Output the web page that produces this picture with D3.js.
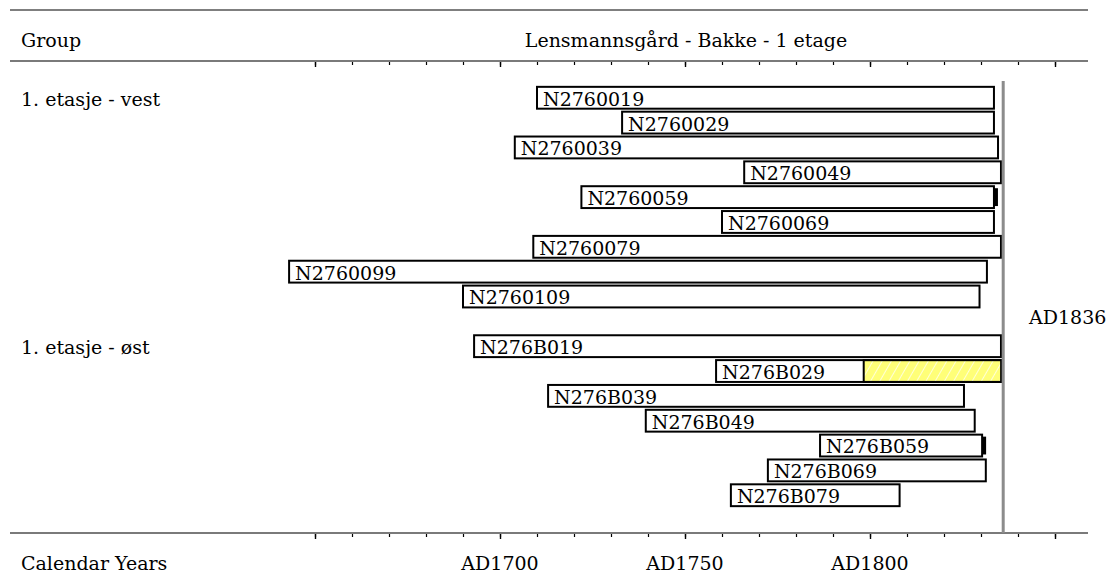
<!DOCTYPE html>
<html>
<head>
<meta charset="utf-8">
<script src="https://cdn.jsdelivr.net/npm/d3@7"></script>
<style>
  body { margin: 0; background: #fff; }
  text { font-family: "DejaVu Serif", serif; font-size: 19px; fill: #000; }
</style>
</head>
<body>
<div id="chart"></div>
<script>
// Chart text
const groupHeader = "Group";
const chartTitle = "Lensmannsgård - Bakke - 1 etage";
const axisTitle = "Calendar Years";
const dateLineLabel = "AD1836";
const dateLineYear = 1836;

// Groups and samples (start year, end year)
const groups = ["1. etasje - vest", "1. etasje - øst"];
const westNames = ["N2760019", "N2760029", "N2760039", "N2760049", "N2760059", "N2760069", "N2760079", "N2760099", "N2760109"];
const westStart = [1710, 1733, 1704, 1766, 1722, 1760, 1709, 1643, 1690];
const westEnd   = [1833.5, 1833.5, 1834.6, 1835.4, 1833.5, 1833.5, 1835.4, 1831.6, 1829.6];
const eastNames = ["N276B019", "N276B029", "N276B039", "N276B049", "N276B059", "N276B069", "N276B079"];
const eastStart = [1693, 1758.4, 1713, 1739.4, 1786.5, 1772.4, 1762.4];
const eastEnd   = [1835.4, 1835.5, 1825.4, 1828.3, 1830.3, 1831.3, 1808];
// hatched (sapwood) start, null if none
const eastHatch = [null, 1798.3, null, null, null, null, null];
// samples with a bark-edge mark at the end
const barkEdge = ["N2760059", "N276B059"];

// Axis ticks
const minorTicks = d3.range(1650, 1851, 10);
const majorTicks = [1650, 1700, 1750, 1800, 1850];
const tickLabels = [
  { year: 1700, label: "AD1700" },
  { year: 1750, label: "AD1750" },
  { year: 1800, label: "AD1800" }
];

// Build rows: west group, one blank row, east group
const rows = [];
westNames.forEach((n, i) => rows.push({ name: n, start: westStart[i], end: westEnd[i], hatch: null, group: i === 0 ? groups[0] : null }));
rows.push(null);
eastNames.forEach((n, i) => rows.push({ name: n, start: eastStart[i], end: eastEnd[i], hatch: eastHatch[i], group: i === 0 ? groups[1] : null }));

const W = 1107, H = 577;
const lineLeft = 10, lineRight = 1088;
const topAxisY = 61, bottomAxisY = 533;

const svg = d3.select("#chart").append("svg")
    .attr("width", W)
    .attr("height", H);

const defs = svg.append("defs");
const pat = defs.append("pattern")
    .attr("id", "hatch")
    .attr("patternUnits", "userSpaceOnUse")
    .attr("width", 8)
    .attr("height", 8)
    .attr("patternTransform", "rotate(30)");
pat.append("rect").attr("width", 8).attr("height", 8).attr("fill", "#ffff78");
pat.append("line").attr("x1", 0).attr("y1", 0).attr("x2", 0).attr("y2", 8)
    .attr("stroke", "#ffffd8").attr("stroke-width", 2);

const x = d3.scaleLinear().domain([1650, 1850]).range([315, 1055]);
const y = d3.scaleBand()
    .domain(d3.range(-1, rows.length + 1))
    .range([topAxisY, bottomAxisY])
    .padding(0);
const step = y.step();

// Top border and header
svg.append("line")
    .attr("x1", lineLeft).attr("x2", lineRight)
    .attr("y1", 10).attr("y2", 10)
    .attr("stroke", "#555").attr("stroke-width", 1.6);

svg.append("text").attr("x", 21).attr("y", 47).text(groupHeader);
svg.append("text").attr("x", 686).attr("y", 47)
    .attr("text-anchor", "middle").text(chartTitle);

// Axis lines
[topAxisY, bottomAxisY].forEach(yy => {
  svg.append("line")
      .attr("x1", lineLeft).attr("x2", lineRight)
      .attr("y1", yy).attr("y2", yy)
      .attr("stroke", "#7a7a7a").attr("stroke-width", 2);
});

// Ticks via d3 axis (domain path hidden)
function drawTicks(yy) {
  const gMinor = svg.append("g")
      .attr("transform", "translate(0," + (yy + 1) + ")")
      .call(d3.axisBottom(x).tickValues(minorTicks).tickSize(3).tickFormat(""));
  gMinor.select(".domain").remove();
  gMinor.selectAll(".tick line").attr("stroke", "#000").attr("stroke-width", 1.2);
  const gMajor = svg.append("g")
      .attr("transform", "translate(0," + (yy + 1) + ")")
      .call(d3.axisBottom(x).tickValues(majorTicks).tickSize(5).tickFormat(""));
  gMajor.select(".domain").remove();
  gMajor.selectAll(".tick line").attr("stroke", "#000").attr("stroke-width", 1.4);
}
drawTicks(topAxisY);
drawTicks(bottomAxisY);

// Bottom labels
svg.append("text").attr("x", 21).attr("y", 570).text(axisTitle);
svg.selectAll(".yearlabel")
    .data(tickLabels)
    .enter().append("text")
    .attr("class", "yearlabel")
    .attr("x", d => x(d.year))
    .attr("y", 570)
    .attr("text-anchor", "middle")
    .text(d => d.label);

// Rows
const data = rows.map((r, i) => r ? Object.assign({ idx: i }, r) : null).filter(d => d);

// Group labels
svg.selectAll(".grouplabel")
    .data(data.filter(d => d.group))
    .enter().append("text")
    .attr("class", "grouplabel")
    .attr("x", 21)
    .attr("y", d => y(d.idx) + step - 5)
    .text(d => d.group);

// Bars
svg.selectAll(".bar")
    .data(data)
    .enter().append("rect")
    .attr("class", "bar")
    .attr("x", d => x(d.start))
    .attr("y", d => y(d.idx) + 1)
    .attr("width", d => x(d.end) - x(d.start))
    .attr("height", step - 3)
    .attr("fill", "#fff");

svg.selectAll(".hatch")
    .data(data.filter(d => d.hatch !== null))
    .enter().append("rect")
    .attr("class", "hatch")
    .attr("x", d => x(d.hatch))
    .attr("y", d => y(d.idx) + 1)
    .attr("width", d => x(d.end) - x(d.hatch))
    .attr("height", step - 3)
    .attr("fill", "url(#hatch)")
    .attr("stroke", "#000")
    .attr("stroke-width", 2);

svg.selectAll(".barOutline")
    .data(data)
    .enter().append("rect")
    .attr("class", "barOutline")
    .attr("x", d => x(d.start))
    .attr("y", d => y(d.idx) + 1)
    .attr("width", d => x(d.end) - x(d.start))
    .attr("height", step - 3)
    .attr("fill", "none")
    .attr("stroke", "#000")
    .attr("stroke-width", 2);

// Bark edge marks
svg.selectAll(".bark")
    .data(data.filter(d => barkEdge.includes(d.name)))
    .enter().append("rect")
    .attr("class", "bark")
    .attr("x", d => x(d.end))
    .attr("y", d => y(d.idx) + 3)
    .attr("width", 4)
    .attr("height", step - 7)
    .attr("fill", "#000");

svg.selectAll(".barlabel")
    .data(data)
    .enter().append("text")
    .attr("class", "barlabel")
    .attr("x", d => x(d.start) + 6)
    .attr("y", d => y(d.idx) + step - 5)
    .text(d => d.name);

// Date line
svg.append("line")
    .attr("x1", x(dateLineYear)).attr("x2", x(dateLineYear))
    .attr("y1", 81).attr("y2", bottomAxisY)
    .attr("stroke", "#8c8c8c").attr("stroke-width", 3);

svg.append("text")
    .attr("x", 1029).attr("y", 324)
    .text(dateLineLabel);
</script>
</body>
</html>
